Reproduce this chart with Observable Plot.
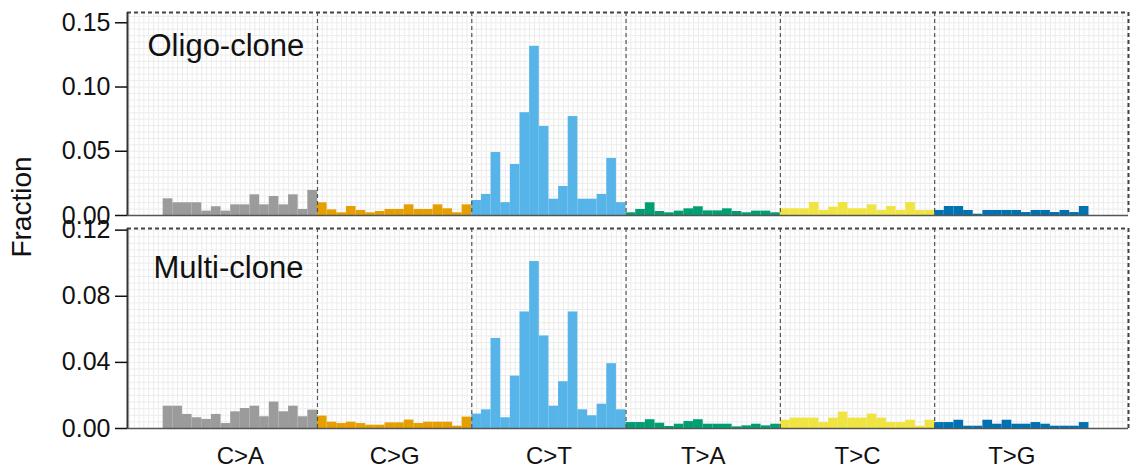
<!DOCTYPE html>
<html><head><meta charset="utf-8">
<script src="https://cdn.jsdelivr.net/npm/d3@7"></script>
<script src="https://cdn.jsdelivr.net/npm/@observablehq/plot@0.6"></script>
<style>
body{margin:0;background:#fff;font-family:"Liberation Sans",Arial,sans-serif;}
#wrap{position:relative;width:1134px;height:476px;overflow:hidden;}
#p1,#p2{position:absolute;left:0;}
#p1{top:0px} #p2{top:216px}
#ylab{position:absolute;left:22px;top:207px;transform:translate(-50%,-50%) rotate(-90deg);font-size:28px;white-space:nowrap;color:#111;}
</style></head><body>
<div id="wrap"><div id="p1"></div><div id="p2"></div><div id="ylab">Fraction</div></div>
<script>
const types = ["C>A","C>G","C>T","T>A","T>C","T>G"];
const colors = ["#9b9b9b","#e69f00","#56b4e9","#009e73","#f0e442","#0072b2"];
const panelLabels = ["Oligo-clone","Multi-clone"];
const yTicksOligo = [0,0.05,0.10,0.15];
const yTicksMulti = [0,0.04,0.08,0.12];
// 96 trinucleotide contexts, 16 per mutation type
const oligo = [
  0.0130,0.0099,0.0099,0.0099,0.0034,0.0068,0.0034,0.0083,0.0083,0.0161,0.0083,0.0148,0.0083,0.0161,0.0047,0.0195,
  0.0099,0.0044,0.0021,0.0070,0.0039,0.0021,0.0031,0.0047,0.0047,0.0083,0.0047,0.0047,0.0083,0.0052,0.0021,0.0083,
  0.0117,0.0164,0.0490,0.0100,0.0397,0.0800,0.1317,0.0693,0.0127,0.0226,0.0770,0.0127,0.0127,0.0164,0.0444,0.0100,
  0.0021,0.0047,0.0099,0.0031,0.0021,0.0034,0.0052,0.0068,0.0036,0.0036,0.0052,0.0031,0.0021,0.0034,0.0034,0.0021,
  0.0052,0.0052,0.0052,0.0101,0.0039,0.0065,0.0101,0.0052,0.0052,0.0083,0.0039,0.0070,0.0039,0.0101,0.0039,0.0039,
  0.0039,0.0070,0.0070,0.0039,0.0010,0.0039,0.0039,0.0039,0.0039,0.0023,0.0039,0.0039,0.0023,0.0039,0.0023,0.0070
];
const multi = [
  0.0135,0.0135,0.0085,0.0065,0.0055,0.0085,0.0030,0.0101,0.0121,0.0135,0.0071,0.0160,0.0101,0.0135,0.0071,0.0111,
  0.0075,0.0038,0.0030,0.0038,0.0030,0.0020,0.0020,0.0034,0.0034,0.0051,0.0030,0.0038,0.0038,0.0038,0.0014,0.0069,
  0.0087,0.0113,0.0545,0.0065,0.0317,0.0705,0.1010,0.0560,0.0135,0.0283,0.0705,0.0113,0.0077,0.0147,0.0392,0.0113,
  0.0036,0.0036,0.0053,0.0032,0.0012,0.0026,0.0042,0.0053,0.0026,0.0026,0.0026,0.0010,0.0016,0.0026,0.0016,0.0026,
  0.0050,0.0063,0.0063,0.0063,0.0036,0.0063,0.0099,0.0063,0.0063,0.0087,0.0063,0.0036,0.0036,0.0050,0.0014,0.0050,
  0.0036,0.0036,0.0050,0.0014,0.0014,0.0050,0.0026,0.0050,0.0026,0.0026,0.0036,0.0026,0.0014,0.0014,0.0014,0.0036
];

const xDomain = [-3.7, 100.1];
function rows(vals){ return vals.map((v,i)=>({i, i1:i+1, v, type: types[Math.floor(i/16)]})); }

function panel({vals,label,yMax,ticks,minor,height,marginBottom,showX,ldx,ldy}) {
  const marks = [
    Plot.ruleX(d3.range(-3.5,100.01,0.5), {stroke:"#ececec", strokeWidth:1}),
    Plot.ruleY(d3.range(minor, yMax, minor), {stroke:"#ececec", strokeWidth:1}),
    Plot.rectY(rows(vals), {x1:"i", x2:"i1", y:"v", fill:"type", inset:0}),
    Plot.ruleX([16,32,48,64,80], {stroke:"#555", strokeDasharray:"4,3", strokeWidth:1.2}),
    Plot.ruleY([yMax], {stroke:"#444", strokeDasharray:"4,3", strokeWidth:2}),
    Plot.ruleX([xDomain[1]], {stroke:"#444", strokeDasharray:"4,3", strokeWidth:2}),
    Plot.ruleY([0], {stroke:"#555", strokeWidth:1.5}),
    Plot.ruleX([xDomain[0]], {stroke:"#333", strokeWidth:2}),
    Plot.axisY({ticks, tickFormat:d3.format(".2f"), tickSize:12, tickPadding:5, fontSize:25, label:null, strokeWidth:1.5}),
    Plot.text([label], {text:d=>d, frameAnchor:"top-left", dx:ldx, dy:ldy, fontSize:31, lineAnchor:"top", fill:"#111"})
  ];
  if (showX) marks.push(Plot.axisX({ticks:[8,24,40,56,72,88], tickFormat:d=>types[Math.round((d-8)/16)], tickSize:0, tickPadding:18, fontSize:24, label:null}));
  return Plot.plot({
    width:1134, height, marginLeft:127, marginRight:6, marginTop:12, marginBottom,
    x:{domain:xDomain, axis: showX ? undefined : null},
    y:{domain:[0,yMax], nice:false},
    color:{domain:types, range:colors},
    style:{background:"transparent", overflow:"visible", fontFamily:"Liberation Sans, Arial, sans-serif", color:"#111"},
    marks
  });
}

document.getElementById("p1").append(panel({vals:oligo, label:panelLabels[0], yMax:0.158, ticks:yTicksOligo, minor:0.005, height:222, marginBottom:7, showX:false, ldx:20, ldy:21}));
document.getElementById("p2").append(panel({vals:multi, label:panelLabels[1], yMax:0.121, ticks:yTicksMulti, minor:0.004, height:260, marginBottom:48, showX:true, ldx:26, ldy:27}));
</script>
</body></html>
